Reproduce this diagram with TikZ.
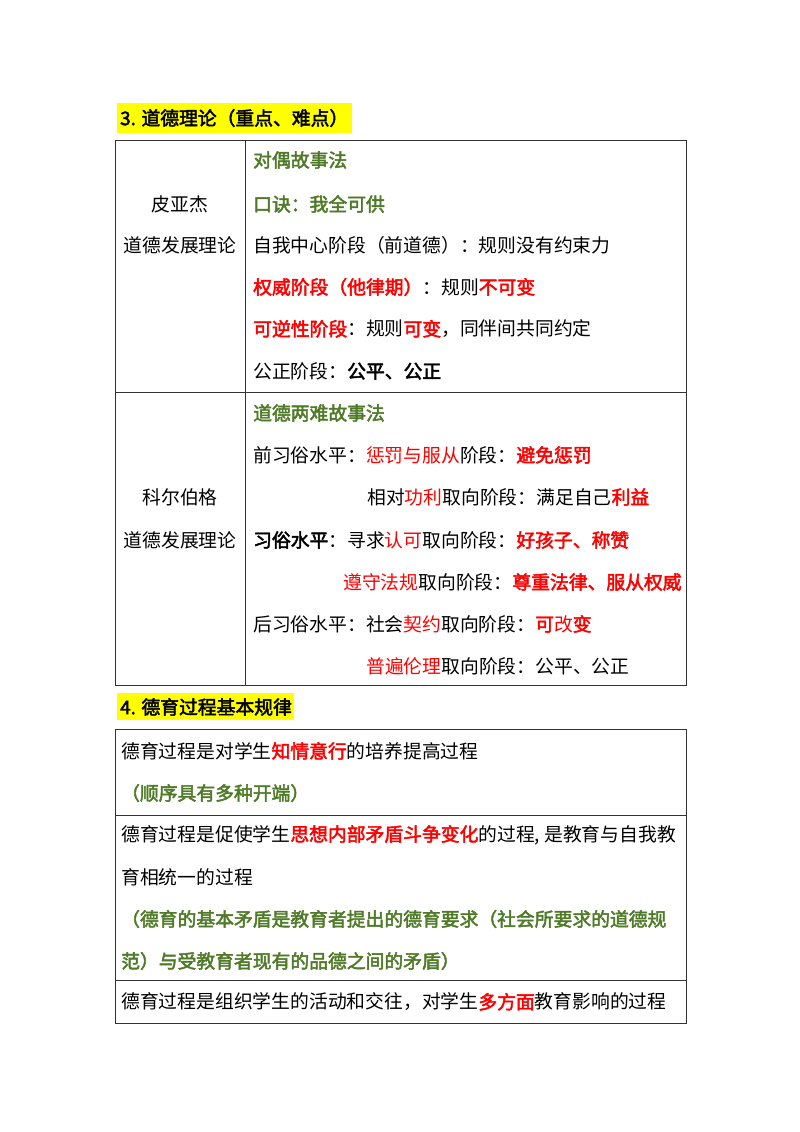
\documentclass[tikz,border=0pt]{standalone}
\usepackage{fontspec}
\setmainfont{Noto Sans CJK SC}[AutoFakeBold=2.5]
\definecolor{gr}{HTML}{4F7A28}
\definecolor{rd}{HTML}{FF0000}
\definecolor{hl}{HTML}{FFFF00}
\newcommand{\Rr}[1]{\textcolor{rd}{#1}}
\newcommand{\Rb}[1]{\textcolor{rd}{\bfseries #1}}
\newcommand{\Gb}[1]{\textcolor{gr}{\bfseries #1}}
\begin{document}
\begin{tikzpicture}[x=1pt,y=-1pt,
  txt/.style={anchor=west,inner sep=0pt,font=\fontsize{18.8}{22}\selectfont},
  ctxt/.style={inner sep=0pt,font=\fontsize{18.8}{22}\selectfont},
  tb/.style={draw=black!80,line width=0.8pt}]
\useasboundingbox (0,0) rectangle (800,1132);
\fill[hl] (117,103) rectangle (352,133);
\node[txt] (h1) at (120,118) {\bfseries 3. 道德理论（重点、难点）};
\draw[tb] (115,140) rectangle (686,685);
\draw[tb] (115,392) -- (686,392);
\draw[tb] (245,140) -- (245,685);
\node[ctxt] (p1) at (180,204) {皮亚杰};
\node[ctxt] (p2) at (180,245) {道德发展理论};
\node[ctxt] (k1) at (180,497) {科尔伯格};
\node[ctxt] (k2) at (180,540) {道德发展理论};
\node[txt] (a1) at (253,160) {\Gb{对偶故事法}};
\node[txt] (a2) at (253,204) {\Gb{口诀：我全可供}};
\node[txt] (a3) at (253,245) {自我中心阶段（前道德）：规则没有约束力};
\node[txt] (a4) at (253,287) {\Rb{权威阶段（他律期）}：规则\Rb{不可变}};
\node[txt] (a5) at (253,329) {\Rb{可逆性阶段}：规则\Rb{可变}，同伴间共同约定};
\node[txt] (a6) at (253,371) {公正阶段：\textbf{公平、公正}};
\node[txt] (b1) at (253,413) {\Gb{道德两难故事法}};
\node[txt] (b2) at (253,455) {前习俗水平：\Rr{惩罚与服从}阶段：\Rb{避免惩罚}};
\node[txt] (b3) at (367,497) {相对\Rr{功利}取向阶段：满足自己\Rb{利益}};
\node[txt] (b4) at (253,540) {\textbf{习俗水平}：寻求\Rr{认可}取向阶段：\Rb{好孩子、称赞}};
\node[txt] (b5) at (343,582) {\Rr{遵守法规}取向阶段：\Rb{尊重法律、服从权威}};
\node[txt] (b6) at (253,624) {后习俗水平：社会\Rr{契约}取向阶段：\Rb{可}\Rr{改}\Rb{变}};
\node[txt] (b7) at (366,666) {\Rr{普遍伦理}取向阶段：公平、公正};
\fill[hl] (117,693) rectangle (294,720);
\node[txt] (h2) at (120,707) {\bfseries 4. 德育过程基本规律};
\draw[tb] (115,729) rectangle (686,1023);
\draw[tb] (115,815) -- (686,815);
\draw[tb] (115,980) -- (686,980);
\node[txt] (c1) at (121,751) {德育过程是对学生\Rb{知情意行}的培养提高过程};
\node[txt] (c2) at (121,793) {\Gb{（顺序具有多种开端）}};
\node[txt] (c3) at (121,835) {德育过程是促使学生\Rb{思想内部矛盾斗争变化}的过程, 是教育与自我教};
\node[txt] (c4) at (121,877) {育相统一的过程};
\node[txt] (c5) at (121,919) {\Gb{（德育的基本矛盾是教育者提出的德育要求（社会所要求的道德规}};
\node[txt] (c6) at (121,961) {\Gb{范）与受教育者现有的品德之间的矛盾）}};
\node[txt] (c7) at (121,1002) {德育过程是组织学生的活动和交往，对学生\Rb{多方面}教育影响的过程};
\end{tikzpicture}
\end{document}
